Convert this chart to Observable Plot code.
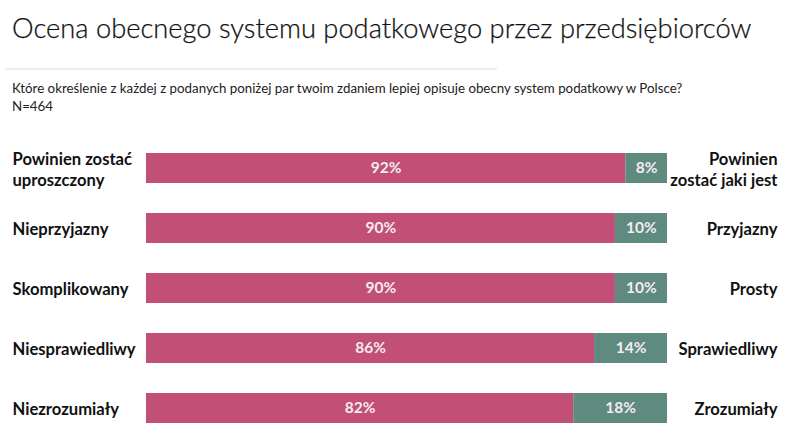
<!DOCTYPE html>
<html><head><meta charset="utf-8">
<script src="https://cdn.jsdelivr.net/npm/d3@7"></script>
<script src="https://cdn.jsdelivr.net/npm/@observablehq/plot@0.6"></script>
<style>
body{margin:0;background:#fff;font-family:Lato,"Open Sans",sans-serif;}
#wrap{position:relative;width:800px;height:439px;overflow:hidden;}
#title{position:absolute;left:12px;top:11px;font-size:27.3px;font-weight:300;color:#111;white-space:nowrap;-webkit-text-stroke:0.25px #111;}
#rule{position:absolute;left:5px;top:68px;width:492px;height:2px;background:#ececec;}
#sub{position:absolute;left:12px;top:79px;font-size:13.3px;color:#222;line-height:18px;white-space:nowrap;}
#minus{position:absolute;left:150px;top:126px;width:36px;height:7px;background:#9b1b4b;}
.plus{position:absolute;background:#2d5a4f;}
#chart{position:absolute;left:0;top:112px;}
</style></head>
<body><div id="wrap">
<div id="title">Ocena obecnego systemu podatkowego przez przedsiębiorców</div>
<div id="rule"></div>
<div id="sub">Które określenie z każdej z podanych poniżej par twoim zdaniem lepiej opisuje obecny system podatkowy w Polsce?<br>N=464</div>
<div id="minus"></div>
<div class="plus" style="left:637px;top:128px;width:27px;height:8px;"></div>
<div class="plus" style="left:646px;top:119px;width:9px;height:25px;"></div>
<div id="chart"></div>
</div>
<script>
const negLabels = ["Powinien zostać\nuproszczony","Nieprzyjazny","Skomplikowany","Niesprawiedliwy","Niezrozumiały"];
const posLabels = ["Powinien\nzostać jaki jest","Przyjazny","Prosty","Sprawiedliwy","Zrozumiały"];
const negValues = [92,90,90,86,82];
const posValues = [8,10,10,14,18];

const rows = negLabels.map((n,i)=>({key:n, neg:n, pos:posLabels[i], nv:negValues[i], pv:posValues[i]}));
const segs = [];
rows.forEach(r=>{
  segs.push({key:r.key, x1:0, x2:r.nv, v:r.nv, side:"neg"});
  segs.push({key:r.key, x1:r.nv, x2:r.nv+r.pv, v:r.pv, side:"pos"});
});

const chart = Plot.plot({
  width:800, height:327,
  marginLeft:146, marginRight:133, marginTop:26, marginBottom:1,
  x:{domain:[0,100], axis:null},
  y:{domain:negLabels, axis:null, paddingInner:0.5, paddingOuter:0.25},
  color:{domain:["neg","pos"], range:["#c14f76","#5e8a7f"]},
  style:{fontFamily:"Lato, 'Open Sans', sans-serif", background:"white"},
  marks:[
    Plot.barX(segs,{y:"key", x1:"x1", x2:"x2", fill:"side"}),
    Plot.text(segs,{y:"key", x:d=>(d.x1+d.x2)/2, text:d=>d.v+"%", fill:"#f6ecef", fontWeight:"bold", fontSize:15.5}),
    Plot.text(rows,{y:"key", x:0, text:"neg", textAnchor:"start", dx:-134, fontWeight:"bold", fontSize:16.6, fill:"#111", lineHeight:1.3}),
    Plot.text(rows,{y:"key", x:100, text:"pos", textAnchor:"end", dx:110, fontWeight:"bold", fontSize:16.6, fill:"#111", lineHeight:1.3})
  ]
});
document.getElementById("chart").appendChild(chart);
</script>
</body></html>
